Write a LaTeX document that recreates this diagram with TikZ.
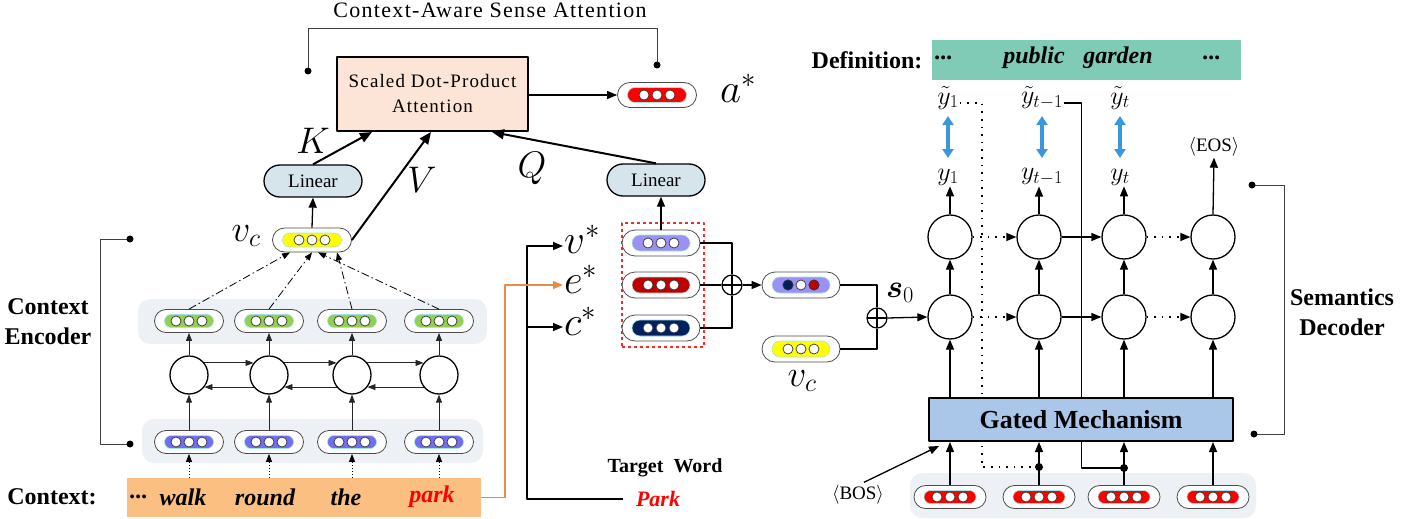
\RequirePackage{fix-cm}
\documentclass[tikz,border=0pt]{standalone}
\usepackage{amsmath}
\usepackage{fontspec}
\setmainfont{Liberation Serif}
\usetikzlibrary{calc}
\usetikzlibrary{positioning}
\usetikzlibrary{arrows.meta}
\usetikzlibrary{shapes.misc}
\definecolor{peach}{RGB}{252,228,214}
\definecolor{lingray}{RGB}{214,228,236}
\definecolor{bandgray}{RGB}{237,241,245}
\definecolor{ctxorange}{RGB}{251,191,130}
\definecolor{defgreen}{RGB}{128,203,181}
\definecolor{gateblue}{RGB}{170,198,232}
\definecolor{arrowblue}{RGB}{58,150,221}
\definecolor{lineorange}{RGB}{230,140,70}
\definecolor{embpurple}{RGB}{155,145,245}
\definecolor{embblue}{RGB}{115,110,240}
\definecolor{embgreen}{RGB}{146,208,80}
\definecolor{embyellow}{RGB}{255,255,0}
\definecolor{embred}{RGB}{255,0,0}
\definecolor{embdarkred}{RGB}{192,0,0}
\definecolor{embnavy}{RGB}{0,32,96}
\tikzstyle{embout} = [draw=black!70, line width=0.8pt, fill=white, rounded rectangle, inner sep=0]
\tikzstyle{embin} = [draw={rgb,255:red,170;green,225;blue,225}, line width=0.6pt, rounded rectangle, inner sep=0]
\tikzstyle{embdot} = [draw=black!80, line width=0.7pt, circle, fill=white, minimum size=10, inner sep=0]
\tikzstyle{rnn} = [draw, line width=1.3pt, circle, minimum size=38, inner sep=0]
\tikzstyle{rnnbig} = [draw, line width=1.3pt, circle, minimum size=44, inner sep=0]
\tikzstyle{band} = [fill=bandgray, rounded corners=12, inner sep=0]
\tikzstyle{linear} = [draw, line width=1.3pt, fill=lingray, rounded rectangle, minimum width=98, minimum height=32, inner sep=0, font=\fontsize{19}{22}\selectfont]
\tikzstyle{sdpa} = [draw, line width=2pt, fill=peach, minimum width=191, minimum height=74, align=center, font=\fontsize{19}{25}\selectfont\addfontfeatures{LetterSpace=6}]
\tikzstyle{gate} = [draw, line width=2pt, fill=gateblue, minimum width=304, minimum height=43, font=\fontsize{26}{30}\selectfont\bfseries]
\tikzstyle{defbox} = [fill=defgreen, minimum width=309, minimum height=40, inner sep=0]
\tikzstyle{oplus} = [draw, line width=1.2pt, circle, minimum size=20, inner sep=0, path picture={\draw[line width=1.2pt] (path picture bounding box.north) -- (path picture bounding box.south) (path picture bounding box.west) -- (path picture bounding box.east);}]
\tikzstyle{boldlbl} = [font=\fontsize{24}{30}\selectfont\bfseries, align=center, inner sep=1]
\tikzstyle{itword} = [font=\fontsize{24}{29}\selectfont\bfseries\itshape, inner sep=1]
\tikzstyle{mathbig} = [font=\fontsize{41}{46}\selectfont, inner sep=0]
\tikzstyle{mathmid} = [font=\fontsize{37}{42}\selectfont, inner sep=1]
\tikzstyle{mathsmall} = [font=\fontsize{26}{30}\selectfont, inner sep=1]
\tikzstyle{tokenlbl} = [font=\fontsize{19}{22}\selectfont, inner sep=1]
\tikzstyle{bracket} = [draw=black!75, line width=0.9pt]
\tikzstyle{arr} = [line width=1.3pt, -{Triangle[length=10pt, width=8pt]}]
\tikzstyle{bigarr} = [line width=2pt, -{Triangle[length=12pt, width=10pt]}]
\tikzstyle{smallarr} = [line width=0.9pt, draw=black!85, -{Triangle[length=8pt, width=6pt]}]
\tikzstyle{dotarr} = [line width=1pt, dotted, -{Triangle[length=8pt, width=6pt]}]
\tikzstyle{sparsedot} = [dash pattern=on 1.6pt off 6pt]
\tikzstyle{dasharr} = [line width=0.8pt, dash pattern=on 8pt off 3pt on 1.5pt off 3pt, -{Triangle[length=8pt, width=6pt]}]
\tikzstyle{bluearr} = [draw=arrowblue, line width=4pt, {Triangle[length=9pt, width=11pt]}-{Triangle[length=9pt, width=11pt]}]
\newcommand{\emb}[6]{%
  \node[embout, minimum width=#4, minimum height=#5] (#1) at (#2,#3) {};
  \node[embin, fill=#6, minimum width=#4-20, minimum height=#5-10] (#1-in) at (#1) {};
  \foreach \k in {-1,0,1} \node[embdot] (#1-d\k) at ($(#1)+(\k*13,0)$) {};
}

\begin{document}
\begin{tikzpicture}[x=1pt, y=-1pt, line join=round]
    \useasboundingbox (0,0) rectangle (1422,519);

    \node[band, minimum width=349, minimum height=45] (encTop) at (312.5,321.5) {};
    \node[band, minimum width=341, minimum height=44] (encBot) at (312.5,441) {};
    \node[band, minimum width=346, minimum height=45] (decBot) at (1083,495.5) {};

    \node[font=\fontsize{22}{26}\selectfont\addfontfeatures{LetterSpace=6}] (title) at (490,10) {Context-Aware Sense Attention};
    \node[sdpa] (sdpa) at (432.5,94) {Scaled Dot-Product\\Attention};
    \emb{astar}{657}{95}{79}{25}{embred}
    \node[mathbig] (aLab) at (738,88) {$a^*$};
    \draw[arr] (sdpa.east |- astar) -- (astar.west);
    \coordinate (brA) at (308,71);
    \coordinate (brB) at (657,65);
    \draw[bracket] (brA) -- ++(0,-43) -| (brB);
    \fill (brA) circle (3.5) (brB) circle (3.5);

    \node[linear] (linK) at (313,181) {Linear};
    \node[linear] (linQ) at (656,180) {Linear};
    \emb{vcA}{312}{240}{79}{24}{embyellow}
    \node[mathmid] (vcALab) at (246,236) {$v_c$};
    \draw[arr] (vcA.north) -- (linK.south);
    \draw[bigarr] (linK.north) -- ($(sdpa.south west)+(36,0)$);
    \draw[bigarr] (vcA.east) -- ($(sdpa.south west)+(95,0)$);
    \draw[bigarr] (linQ.north) -- ($(sdpa.south west)+(156,0)$);
    \node[mathmid] (kLab) at (313,141) {$K$};
    \node[mathmid] (vLab) at (422,180) {$V$};
    \node[mathmid] (qLab) at (532,168) {$Q$};

    \foreach \i/\x in {1/189, 2/269, 3/352, 4/439} {
        \emb{g\i}{\x}{321}{69}{23}{embgreen}
        \node[rnn] (h\i) at (\x,375) {};
        \emb{b\i}{\x}{442}{69}{23}{embblue}
        \draw[smallarr] (b\i.north) -- (h\i.south);
        \draw[smallarr] (h\i.north) -- (g\i.south);
    }
    \foreach \i/\j in {1/2, 2/3, 3/4} {
        \draw[smallarr] (h\i.38) -- (h\j.142);
        \draw[smallarr] (h\j.-142) -- (h\i.-38);
    }
    \foreach \i/\d in {1/-22, 2/0, 3/25, 4/6}
        \draw[dasharr] (g\i.north) -- ($(vcA.south)+(\d,0)$);

    \node[fill=ctxorange, minimum width=354, minimum height=39, inner sep=0] (ctx) at (304,497.5) {};
    \node[itword] (w0) at (139,497) {...};
    \node[itword] (w1) at (183,497) {walk};
    \node[itword] (w2) at (265,497) {round};
    \node[itword] (w3) at (346,497) {the};
    \node[itword, text=red] (w4) at (432,497) {park};
    \foreach \i in {1,2,3,4}
        \draw[dotarr] (b\i.south |- ctx.north) -- (b\i.south);
    \node[boldlbl] (ctxLab) at (52,497) {Context:};

    \coordinate (ceA) at (130,239);
    \coordinate (ceB) at (130,444);
    \draw[bracket] (ceA) -- ++(-30,0) |- (ceB);
    \fill (ceA) circle (3.5) (ceB) circle (3.5);
    \node[boldlbl] (ceLab) at (48,322) {Context\\Encoder};

    \node[font=\fontsize{20}{24}\selectfont\bfseries, inner sep=1] (twLab) at (665,468) {Target\ \ Word};
    \node[itword, text=red, font=\fontsize{22}{26}\selectfont\bfseries\itshape] (park) at (658,499) {Park};
    \node[mathbig, anchor=west] (vsLab) at (564,239) {$v^*$};
    \node[mathbig, anchor=west] (esLab) at (564,279) {$e^*$};
    \node[mathbig, anchor=west] (csLab) at (564,321) {$c^*$};
    \draw[arr] ($(park.west)+(-12,0)$) -| ($(vsLab.west)+(-37,7)$) -- ($(vsLab.west)+(-1,7)$);
    \draw[arr] ($(csLab.west)+(-37,6)$) -- ($(csLab.west)+(-1,6)$);
    \draw[arr, draw=lineorange, line width=1.5pt] (ctx.east) -| ($(esLab.west)+(-59,6)$) -- ($(esLab.west)+(-1,6)$);

    \node[draw=red!85, line width=1.5pt, dashed, minimum width=82, minimum height=124] (tgtBox) at (663,285) {};
    \emb{vs}{661}{243}{78}{26}{embpurple}
    \emb{es}{661}{285}{78}{26}{embdarkred}
    \emb{cs}{661}{328}{78}{26}{embnavy}
    \draw[arr] (vs.north) -- (vs.north |- linQ.south);

    \node[oplus] (op1) at (732,285) {};
    \draw[line width=1.2pt] (vs.east) -| (op1.north);
    \draw[line width=1.2pt] (cs.east) -| (op1.south);
    \draw[line width=1.2pt] (es.east) -- (op1.west);
    \emb{mix}{801}{285}{78}{26}{embpurple}
    \node[embdot, fill=embnavy] at (mix-d-1) {};
    \node[embdot, fill=embdarkred] at (mix-d1) {};
    \draw[arr] (op1.east) -- (mix.west);
    \emb{vcB}{801}{349}{78}{26}{embyellow}
    \node[mathmid] (vcBLab) at (802,381) {$v_c$};
    \node[oplus] (op2) at (877,318) {};
    \draw[line width=1.2pt] (mix.east) -| (op2.north);
    \draw[line width=1.2pt] (vcB.east) -| (op2.south);
    \node[font=\fontsize{32}{36}\selectfont, inner sep=1] (s0Lab) at (900,293) {$\boldsymbol{s}_0$};

    \node[defbox] (def) at (1086.5,60) {};
    \node[itword] (d0) at (944,58) {...};
    \node[itword] (d1) at (1034,58) {public};
    \node[itword] (d2) at (1118,58) {garden};
    \node[itword] (d3) at (1212,58) {...};
    \node[boldlbl] (defLab) at (867,60) {Definition:};

    \node[mathsmall] (yt1) at (948,98) {$\tilde{y}_1$};
    \node[mathsmall] (yt2) at (1042,98) {$\tilde{y}_{t-1}$};
    \node[mathsmall] (yt3) at (1120,98) {$\tilde{y}_t$};
    \node[mathsmall] (y1) at (948,177) {$y_1$};
    \node[mathsmall] (y2) at (1042,177) {$y_{t-1}$};
    \node[mathsmall] (y3) at (1120,177) {$y_t$};
    \foreach \i in {1,2,3}
        \draw[bluearr] ($(yt\i)+(0,18)$) -- ($(y\i)+(0,-19)$);

    \foreach \i/\x in {1/950, 2/1039, 3/1124, 4/1213} {
        \node[rnnbig] (u\i) at (\x,317) {};
        \node[rnnbig] (t\i) at (\x,237) {};
        \emb{r\i}{\x}{497}{72}{23}{embred}
        \draw[arr] (u\i.north) -- (t\i.south);
    }
    \draw[arr] (op2.east) -- (u1.west);
    \foreach \i in {1,2,3}
        \draw[arr] (t\i.north) -- (t\i.north |- y\i.south);
    \node[tokenlbl] (eos) at (1214,147) {$\langle$EOS$\rangle$};
    \draw[arr] (t4.north) -- (eos.south);
    \foreach \r in {u,t} {
        \draw[arr, sparsedot] (\r1.east) -- (\r2.west);
        \draw[arr] (\r2.east) -- (\r3.west);
        \draw[arr, sparsedot] (\r3.east) -- (\r4.west);
    }

    \coordinate (fbA) at (1039,467);
    \coordinate (fbB) at (1124,468);
    \draw[line width=1.5pt, sparsedot] ($(yt1.east)+(0,5)$) -- ++(22,0) |- (fbA);
    \draw[line width=1.1pt] ($(yt2.east)+(0,5)$) -- ++(17,0) |- (fbB);
    \fill (fbA) circle (4) (fbB) circle (4);

    \node[gate] (gm) at (1081,419.5) {Gated Mechanism};
    \foreach \i in {1,2,3,4} {
        \draw[arr] (gm.north -| u\i) -- (u\i.south);
        \draw[arr] (r\i.north) -- (r\i.north |- gm.south);
    }
    \node[tokenlbl] (bos) at (858,495) {$\langle$BOS$\rangle$};
    \draw[arr] ($(bos.north)+(6,-2)$) -- ($(gm.south west)+(11,4)$);

    \coordinate (sdA) at (1252,185);
    \coordinate (sdB) at (1254,434);
    \draw[bracket] (sdA) -- ++(32,0) |- (sdB);
    \fill (sdA) circle (3.5) (sdB) circle (3.5);
    \node[boldlbl] (sdLab) at (1342,312) {Semantics\\Decoder};
\end{tikzpicture}
\end{document}
